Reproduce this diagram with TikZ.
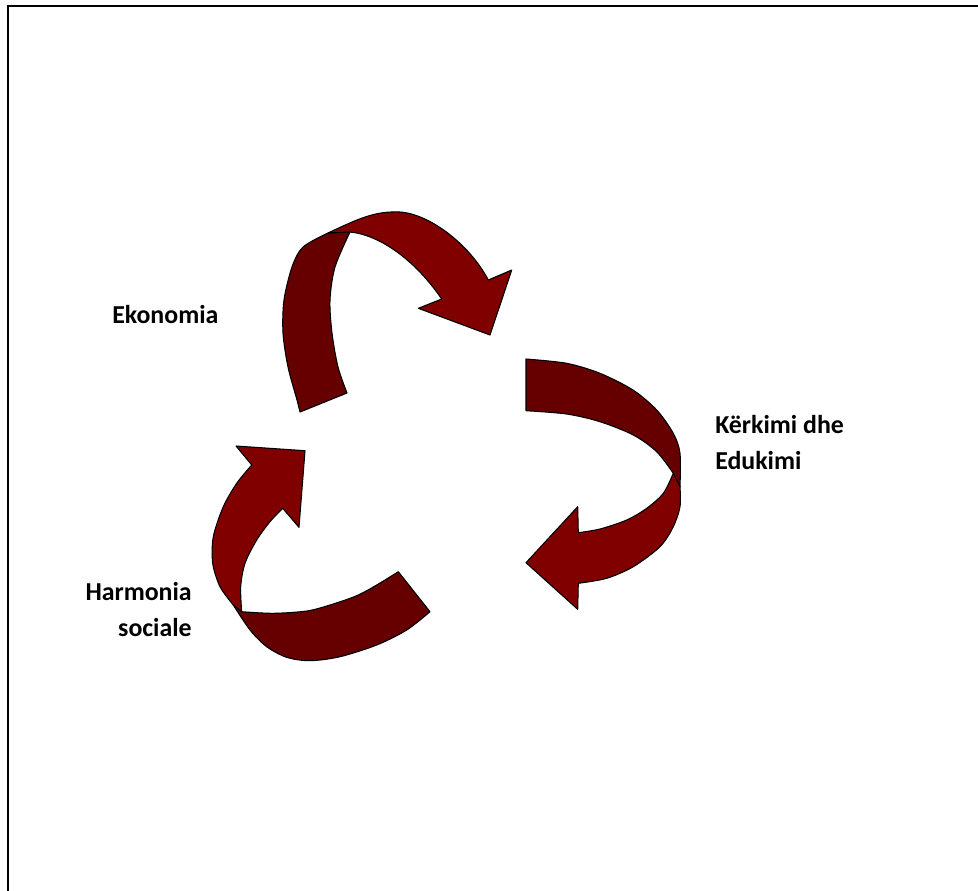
\documentclass[tikz,border=0pt]{standalone}
\usepackage{fontspec}
\setmainfont{Carlito}
\definecolor{bandfront}{RGB}{128,0,0}
\definecolor{bandback}{RGB}{102,0,0}
\begin{document}
\begin{tikzpicture}[x=0.75pt,y=-0.75pt,
  front/.style={fill=bandfront,draw=black,line width=0.8pt,line join=round},
  back/.style={fill=bandback,draw=black,line width=0.8pt,line join=round},
  lbl/.style={font=\fontsize{19.4}{27}\selectfont\bfseries,inner sep=0pt,align=left}]
\useasboundingbox (0,0) rectangle (978,890);
\fill[white] (0,0) rectangle (978,890);
% open frame: top and left sides
\draw[line width=1.5pt] (982,5.7) -- (7.5,5.7) -- (7.5,894);

% --- top arrow (Ekonomia) ---
\path[back] (300,412) -- (347,393)
  -- plot[smooth] coordinates {(347,393) (338,367) (332,333) (330,300) (335,267) (350,232)}
  -- (328,233)
  -- plot[smooth] coordinates {(328,233) (303,247) (292,267) (284,300) (283,333) (288,367) (297,400) (300,412)}
  -- cycle;
\path[front] (328,233)
  .. controls (360,218) and (375,211) .. (400,212)
  .. controls (430,214) and (470,245) .. (488.3,280)
  -- (511.7,270) -- (490,335) -- (418.3,308.3) -- (441.7,299)
  .. controls (415,260) and (380,235) .. (350,232)
  -- cycle;

% --- right arrow (Kerkimi dhe Edukimi) ---
\path[back] (526,359)
  -- plot[smooth] coordinates {(526,359) (566.7,363.3) (600,373.3) (633,390) (656.7,410) (673.3,433.3) (680,453.3) (680,486.7)}
  -- (673.3,473.3)
  -- plot[smooth] coordinates {(673.3,473.3) (656.7,451.7) (633.3,435) (600,421.7) (566.7,414) (526,410.7)}
  -- cycle;
\path[front] (673.3,473.3) -- (680,486.7)
  -- plot[smooth] coordinates {(680,486.7) (680,506.7) (673.3,526.7) (660,546.7) (633.3,566.7) (606.7,578.3) (578.3,583.3)}
  -- (577.7,609.3) -- (526,562.7) -- (577.7,506.7) -- (578.3,532.7)
  -- plot[smooth] coordinates {(578.3,532.7) (600,529) (626.7,520) (646.7,508.3) (663.3,493.3) (673.3,473.3)}
  -- cycle;

% --- lower left arrow (Harmonia sociale) ---
\path[back] (398.3,571.7) -- (430,611.7)
  -- plot[smooth] coordinates {(430,611.7) (406.7,630) (376.7,645) (340,656.7) (310,660.7) (286.7,657.3) (266.7,646.7) (250,630) (233.3,605)}
  -- (241.7,611.7)
  -- plot[smooth] coordinates {(241.7,611.7) (273.3,613.3) (306.7,611) (330,605) (356.7,595.7) (376.7,585) (398.3,571.7)}
  -- cycle;
\path[front] (233.3,605)
  -- plot[smooth] coordinates {(233.3,605) (220,586.7) (212.7,563.3) (213.3,536.7) (223.3,506.7) (236.7,483.3) (251.7,465)}
  -- (236,446) -- (305,450.7) -- (299,527.3) -- (282.7,508.3)
  -- plot[smooth] coordinates {(282.7,508.3) (270,521.7) (256.7,540) (245,563.3) (240.7,586.7) (241.7,611.7)}
  -- cycle;

% labels
\node[lbl,anchor=base west] (eko) at (112,323) {Ekonomia};
\node[lbl,anchor=base west] (ker) at (715,469) {Kërkimi dhe\\Edukimi};
\node[lbl,anchor=base east,align=right] (har) at (192,636.7) {Harmonia\\sociale};
\end{tikzpicture}
\end{document}
